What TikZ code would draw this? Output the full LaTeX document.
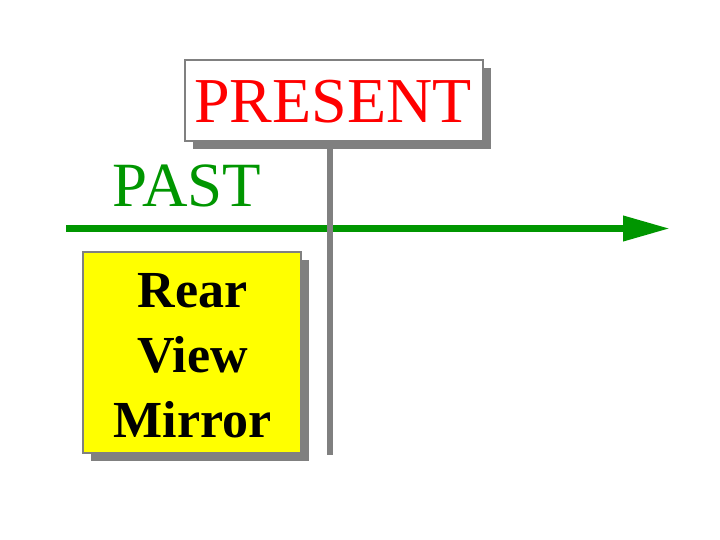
\documentclass[tikz,border=0pt]{standalone}
\usepackage{fontspec}
\setmainfont{Liberation Serif}
\usetikzlibrary{arrows.meta,shadows}
\definecolor{boxgray}{RGB}{128,128,128}
\definecolor{pastgreen}{RGB}{0,150,0}
\definecolor{presred}{RGB}{255,0,0}
\definecolor{mirroryellow}{RGB}{255,255,0}
\tikzset{
  shadowbox/.style={draw=boxgray, line width=2.8pt, inner sep=0pt,
    general shadow={fill=boxgray, shadow xshift=8pt, shadow yshift=-8pt}},
  timeline/.style={draw=pastgreen, line width=7pt,
    -{Triangle[length=47pt,width=24pt]}},
  nowline/.style={draw=boxgray, line width=6pt},
  bigtext/.style={inner sep=0pt, anchor=base}
}
\begin{document}
\begin{tikzpicture}[x=1pt,y=-1pt]
\useasboundingbox (0,0) rectangle (720,540);
% timeline
\coordinate (pastStart) at (66,228.5);
\coordinate (futureEnd) at (670,228.5);
\draw[timeline] (pastStart) -- (futureEnd);
% present box
\node[shadowbox, fill=white, minimum width=298pt, minimum height=81pt]
  (present) at (334,100.5) {};
\node[bigtext, text=presred, font=\fontsize{64}{64}\selectfont] (presentText) at (333,123) {PRESENT};
% vertical now line
\coordinate (nowBottom) at (330,455);
\draw[nowline] (present.south -| nowBottom) -- (nowBottom);
% past label
\node[bigtext, text=pastgreen, font=\fontsize{63}{63}\selectfont] (past) at (187,207) {PAST};
% mirror box
\node[shadowbox, fill=mirroryellow, minimum width=218pt, minimum height=201pt]
  (mirror) at (192,352.5) {};
\node[inner sep=0pt, align=center, font=\fontsize{52}{65}\bfseries\selectfont]
  (mirrorText) at (192.5,355.5) {Rear\\View\\Mirror};
\end{tikzpicture}
\end{document}
